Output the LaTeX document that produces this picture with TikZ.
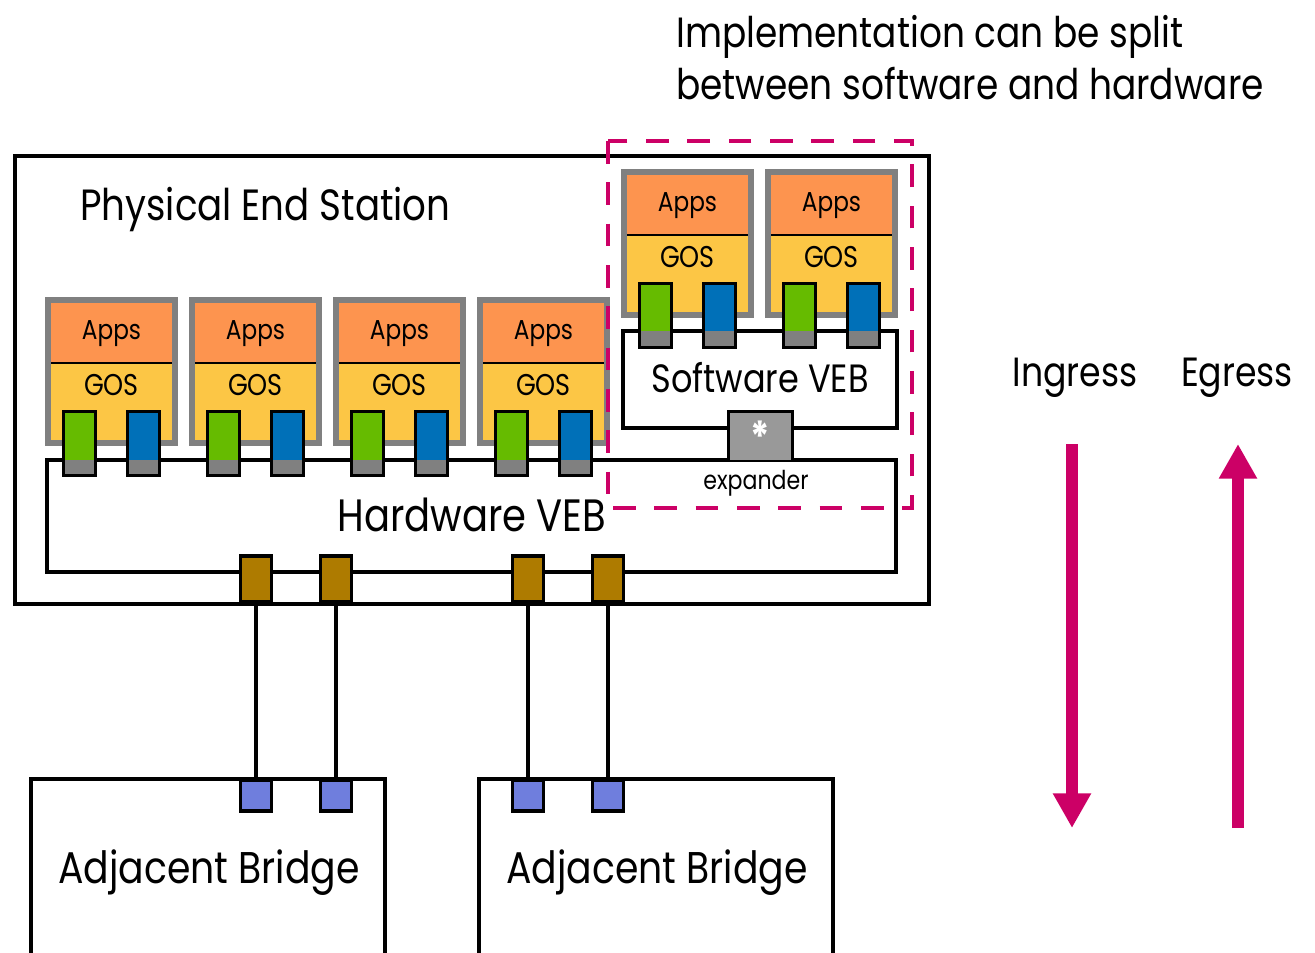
\documentclass[tikz,border=0pt]{standalone}
\usepackage{fontspec}
\setmainfont{Poppins}[FakeStretch=0.85]
\usetikzlibrary{arrows.meta}

\definecolor{appsorange}{RGB}{253,148,79}
\definecolor{gosyellow}{RGB}{252,198,69}
\definecolor{vmgray}{RGB}{128,128,128}
\definecolor{nicgreen}{RGB}{102,187,0}
\definecolor{nicblue}{RGB}{0,112,184}
\definecolor{expgray}{RGB}{153,153,153}
\definecolor{uplinkbrown}{RGB}{174,123,0}
\definecolor{bridgeblue}{RGB}{111,126,221}
\definecolor{accent}{RGB}{204,0,102}

\newcommand\fsz[1]{\fontsize{#1}{1.2\dimexpr#1pt\relax}\selectfont}

\tikzset{
  boxline/.style={line width=3pt},
  vebline/.style={line width=2.6pt},
  portline/.style={draw=black, line width=2.6pt},
  wire/.style={line width=2.6pt},
  lbl/.style={anchor=base, inner sep=0pt},
  flow/.style={draw=accent, line width=9pt, -{Triangle[width=27pt,length=26pt]}},
  port/.style={portline, minimum width=23.6pt, minimum height=23.6pt, inner sep=0pt},
}

% a virtual machine: #1 name, #2 left, #3 top
\newcommand\vmachine[3]{%
  \fill[vmgray] (#2,#3) rectangle ++(133,149);
  \fill[appsorange] (#2+6,#3+6) rectangle (#2+127,#3+66);
  \fill[gosyellow] (#2+6,#3+66) rectangle (#2+127,#3+143);
  \draw[line width=1.5pt] (#2+6,#3+66) -- (#2+127,#3+66);
  \node[lbl, font=\fsz{20.5}] (#1-apps) at (#2+66.5,#3+42) {Apps};
  \node[lbl, font=\fsz{22.5}] (#1-gos) at (#2+66.5,#3+98) {GOS};
}
% a virtual NIC: #1 name, #2 left, #3 top, #4 colour, #5 bridge line
\newcommand\vnic[5]{%
  \fill[#4] (#2+1.75,#3+1.75) rectangle (#2+33.25,#5);
  \fill[vmgray] (#2+1.75,#5) rectangle (#2+33.25,#3+65.25);
  \draw[portline] (#2+1.75,#3+1.75) rectangle (#2+33.25,#3+65.25);
  \coordinate (#1) at (#2+17.5,#3+33.5);
}

\begin{document}
\begin{tikzpicture}[x=0.75pt,y=-0.75pt]
\useasboundingbox (0,0) rectangle (1315,953);

% caption
\node[lbl, anchor=base west, font=\fsz{31.7}] (cap1) at (676,47) {Implementation can be split};
\node[lbl, anchor=base west, font=\fsz{31.7}] (cap2) at (676,99) {between software and hardware};

% physical end station
\draw[boxline, line width=3.2pt] (15,156) rectangle (929,604);
\node[lbl, anchor=base west, font=\fsz{32.8}] (pes) at (80,220) {Physical End Station};

% virtual machines on the hardware bridge
\foreach \i/\x in {1/45,2/189,3/333,4/477} {
  \vmachine{hvm\i}{\x}{297}
}
% virtual machines on the software bridge
\foreach \i/\x in {1/621,2/765} {
  \vmachine{svm\i}{\x}{169}
}

% hardware VEB
\draw[vebline] (47,460) rectangle (896,572);
\node[lbl, font=\fsz{34}] (hveb) at (472,531) {Hardware VEB};

% software VEB and its expander port
\draw[vebline] (623,331) rectangle (897,428);
\node[lbl, font=\fsz{29.6}] (sveb) at (760,392) {Software VEB};
\fill[expgray] (728.5,411.5) rectangle (792.5,460);
\draw[portline] (728.5,460) -- (728.5,411.5) -- (792.5,411.5) -- (792.5,460);
\node[text=white, inner sep=0pt, font=\bfseries\fsz{32}] (star) at (760,437) {*};
\node[lbl, font=\fsz{19.5}] (exp) at (756,489) {expander};

% virtual NICs
\foreach \i/\x in {1/45,2/189,3/333,4/477} {
  \vnic{hvm\i-a}{\x+17}{410}{nicgreen}{460}
  \vnic{hvm\i-b}{\x+81}{410}{nicblue}{460}
}
\foreach \i/\x in {1/621,2/765} {
  \vnic{svm\i-a}{\x+17}{282}{nicgreen}{331}
  \vnic{svm\i-b}{\x+81}{282}{nicblue}{331}
}

% uplink ports
\foreach \i/\x in {1/256,2/336,3/528,4/608} {
  \node[port, fill=uplinkbrown, minimum height=34.5pt] (up\i) at (\x,579) {};
}

% adjacent bridges
\draw[boxline, line width=3.4pt] (31,960) -- (31,779) -- (385,779) -- (385,960);
\draw[boxline, line width=3.4pt] (479,960) -- (479,779) -- (833,779) -- (833,960);
\node[lbl, font=\fsz{33.3}] (br1) at (209,883) {Adjacent Bridge};
\node[lbl, font=\fsz{33.3}] (br2) at (657,883) {Adjacent Bridge};
\foreach \i/\x in {1/256,2/336,3/528,4/608} {
  \node[port, fill=bridgeblue, minimum height=23pt] (bp\i) at (\x,795.5) {};
}

% links
\foreach \i in {1,2,3,4} {
  \draw[wire] (up\i.south) -- (bp\i.north);
}

% software / hardware split
\draw[draw=accent, line width=3.6pt, dash pattern=on 17pt off 14pt] (608,141) rectangle (912,508);

% traffic direction
\node[lbl, font=\fsz{30.6}] (ing) at (1075,386) {Ingress};
\node[lbl, font=\fsz{30.6}] (egr) at (1237,386) {Egress};
\coordinate (ingtop) at (1072,444);
\coordinate (ingbot) at (1072,828);
\coordinate (egrtop) at (1238,444);
\coordinate (egrbot) at (1238,828);
\draw[flow] (ingtop) -- (ingbot);
\draw[flow] (egrbot) -- (egrtop);
\end{tikzpicture}
\end{document}
